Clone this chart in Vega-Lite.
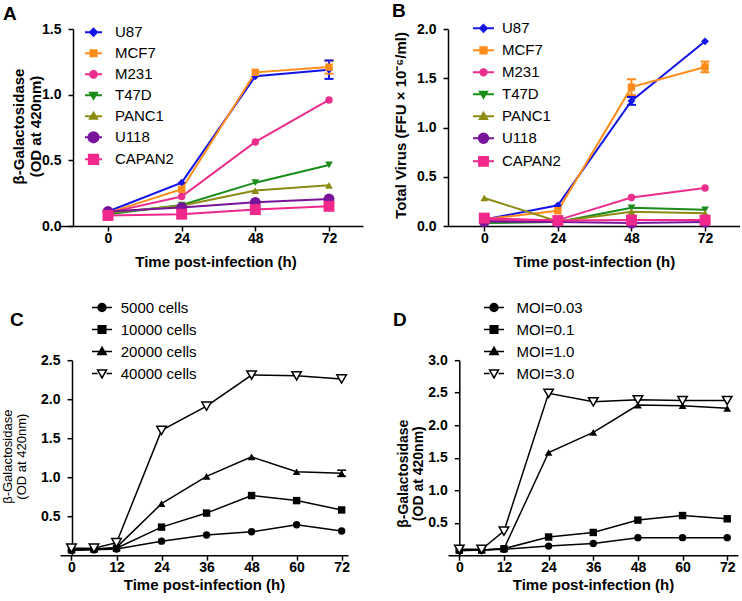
{
 "$schema": "https://vega.github.io/schema/vega-lite/v6.json",
 "background": "white",
 "padding": {"left": 1, "top": 1, "right": 0, "bottom": 0},
 "spacing": 27.2,
 "resolve": {"scale": {"color": "independent", "shape": "independent", "fill": "independent", "stroke": "independent"}, "legend": {"color": "independent", "shape": "independent", "fill": "independent", "stroke": "independent"}},
 "config": {
  "view": {"stroke": null},
  "axis": {"domainColor": "black", "domainWidth": 1.5, "tickColor": "black", "tickWidth": 1.5, "tickSize": 5, "grid": false, "labelFont": "Liberation Sans", "labelFontSize": 14, "labelFontWeight": "bold", "labelColor": "black", "titleFont": "Liberation Sans", "titleFontSize": 15, "titleFontWeight": "bold", "titleColor": "black"},
  "axisX": {"labelPadding": 0, "titlePadding": 3, "labelFlush": false, "labelOverlap": false},
  "axisY": {"labelPadding": 7, "titleBaseline": "middle", "titleAlign": "center", "titleLineHeight": 17},
  "legend": {"labelFont": "Liberation Sans", "labelFontSize": 15, "labelColor": "black", "orient": "none", "title": null, "symbolOpacity": 1},
  "title": {"font": "Liberation Sans", "fontSize": 19, "fontWeight": "bold", "color": "black", "anchor": "start", "frame": "group", "baseline": "alphabetic"}
 },
 "datasets": {
  "a": [
   {"s": "U87", "t": 0, "v": 0.11}, {"s": "U87", "t": 24, "v": 0.33}, {"s": "U87", "t": 48, "v": 1.14}, {"s": "U87", "t": 72, "v": 1.19},
   {"s": "MCF7", "t": 0, "v": 0.10}, {"s": "MCF7", "t": 24, "v": 0.28}, {"s": "MCF7", "t": 48, "v": 1.17}, {"s": "MCF7", "t": 72, "v": 1.21},
   {"s": "M231", "t": 0, "v": 0.10}, {"s": "M231", "t": 24, "v": 0.225}, {"s": "M231", "t": 48, "v": 0.64}, {"s": "M231", "t": 72, "v": 0.96},
   {"s": "T47D", "t": 0, "v": 0.09}, {"s": "T47D", "t": 24, "v": 0.16}, {"s": "T47D", "t": 48, "v": 0.33}, {"s": "T47D", "t": 72, "v": 0.465},
   {"s": "PANC1", "t": 0, "v": 0.10}, {"s": "PANC1", "t": 24, "v": 0.155}, {"s": "PANC1", "t": 48, "v": 0.27}, {"s": "PANC1", "t": 72, "v": 0.31},
   {"s": "U118", "t": 0, "v": 0.11}, {"s": "U118", "t": 24, "v": 0.14}, {"s": "U118", "t": 48, "v": 0.18}, {"s": "U118", "t": 72, "v": 0.205},
   {"s": "CAPAN2", "t": 0, "v": 0.08}, {"s": "CAPAN2", "t": 24, "v": 0.09}, {"s": "CAPAN2", "t": 48, "v": 0.125}, {"s": "CAPAN2", "t": 72, "v": 0.15}
  ],
  "aerr": [
   {"s": "MCF7", "t": 72, "lo": 1.16, "hi": 1.26},
   {"s": "U87", "t": 72, "lo": 1.12, "hi": 1.26}
  ],
  "b": [
   {"s": "U87", "t": 0, "v": 0.065}, {"s": "U87", "t": 24, "v": 0.21}, {"s": "U87", "t": 48, "v": 1.27}, {"s": "U87", "t": 72, "v": 1.875},
   {"s": "MCF7", "t": 0, "v": 0.07}, {"s": "MCF7", "t": 24, "v": 0.155}, {"s": "MCF7", "t": 48, "v": 1.41}, {"s": "MCF7", "t": 72, "v": 1.615},
   {"s": "M231", "t": 0, "v": 0.06}, {"s": "M231", "t": 24, "v": 0.06}, {"s": "M231", "t": 48, "v": 0.29}, {"s": "M231", "t": 72, "v": 0.385},
   {"s": "T47D", "t": 0, "v": 0.03}, {"s": "T47D", "t": 24, "v": 0.04}, {"s": "T47D", "t": 48, "v": 0.185}, {"s": "T47D", "t": 72, "v": 0.165},
   {"s": "PANC1", "t": 0, "v": 0.285}, {"s": "PANC1", "t": 24, "v": 0.045}, {"s": "PANC1", "t": 48, "v": 0.145}, {"s": "PANC1", "t": 72, "v": 0.13},
   {"s": "U118", "t": 0, "v": 0.045}, {"s": "U118", "t": 24, "v": 0.04}, {"s": "U118", "t": 48, "v": 0.03}, {"s": "U118", "t": 72, "v": 0.04},
   {"s": "CAPAN2", "t": 0, "v": 0.08}, {"s": "CAPAN2", "t": 24, "v": 0.055}, {"s": "CAPAN2", "t": 48, "v": 0.06}, {"s": "CAPAN2", "t": 72, "v": 0.06}
  ],
  "berr": [
   {"s": "U87", "t": 48, "lo": 1.23, "hi": 1.31},
   {"s": "MCF7", "t": 48, "lo": 1.33, "hi": 1.49},
   {"s": "MCF7", "t": 72, "lo": 1.56, "hi": 1.67}
  ],
  "c": [
   {"s": "5000 cells", "t": 0, "v": 0.06}, {"s": "5000 cells", "t": 6, "v": 0.07}, {"s": "5000 cells", "t": 12, "v": 0.08}, {"s": "5000 cells", "t": 24, "v": 0.18}, {"s": "5000 cells", "t": 36, "v": 0.26}, {"s": "5000 cells", "t": 48, "v": 0.30}, {"s": "5000 cells", "t": 60, "v": 0.39}, {"s": "5000 cells", "t": 72, "v": 0.31},
   {"s": "10000 cells", "t": 0, "v": 0.07}, {"s": "10000 cells", "t": 6, "v": 0.08}, {"s": "10000 cells", "t": 12, "v": 0.09}, {"s": "10000 cells", "t": 24, "v": 0.36}, {"s": "10000 cells", "t": 36, "v": 0.54}, {"s": "10000 cells", "t": 48, "v": 0.765}, {"s": "10000 cells", "t": 60, "v": 0.70}, {"s": "10000 cells", "t": 72, "v": 0.58},
   {"s": "20000 cells", "t": 0, "v": 0.07}, {"s": "20000 cells", "t": 6, "v": 0.08}, {"s": "20000 cells", "t": 12, "v": 0.10}, {"s": "20000 cells", "t": 24, "v": 0.66}, {"s": "20000 cells", "t": 36, "v": 1.01}, {"s": "20000 cells", "t": 48, "v": 1.26}, {"s": "20000 cells", "t": 60, "v": 1.07}, {"s": "20000 cells", "t": 72, "v": 1.05},
   {"s": "40000 cells", "t": 0, "v": 0.09}, {"s": "40000 cells", "t": 6, "v": 0.09}, {"s": "40000 cells", "t": 12, "v": 0.16}, {"s": "40000 cells", "t": 24, "v": 1.60}, {"s": "40000 cells", "t": 36, "v": 1.91}, {"s": "40000 cells", "t": 48, "v": 2.31}, {"s": "40000 cells", "t": 60, "v": 2.30}, {"s": "40000 cells", "t": 72, "v": 2.26}
  ],
  "cerr": [
   {"s": "20000 cells", "t": 72, "lo": 1.01, "hi": 1.09}
  ],
  "d": [
   {"s": "MOI=0.03", "t": 0, "v": 0.07}, {"s": "MOI=0.03", "t": 6, "v": 0.08}, {"s": "MOI=0.03", "t": 12, "v": 0.09}, {"s": "MOI=0.03", "t": 24, "v": 0.14}, {"s": "MOI=0.03", "t": 36, "v": 0.18}, {"s": "MOI=0.03", "t": 48, "v": 0.27}, {"s": "MOI=0.03", "t": 60, "v": 0.27}, {"s": "MOI=0.03", "t": 72, "v": 0.27},
   {"s": "MOI=0.1", "t": 0, "v": 0.08}, {"s": "MOI=0.1", "t": 6, "v": 0.08}, {"s": "MOI=0.1", "t": 12, "v": 0.10}, {"s": "MOI=0.1", "t": 24, "v": 0.28}, {"s": "MOI=0.1", "t": 36, "v": 0.35}, {"s": "MOI=0.1", "t": 48, "v": 0.54}, {"s": "MOI=0.1", "t": 60, "v": 0.61}, {"s": "MOI=0.1", "t": 72, "v": 0.56},
   {"s": "MOI=1.0", "t": 0, "v": 0.08}, {"s": "MOI=1.0", "t": 6, "v": 0.08}, {"s": "MOI=1.0", "t": 12, "v": 0.10}, {"s": "MOI=1.0", "t": 24, "v": 1.58}, {"s": "MOI=1.0", "t": 36, "v": 1.89}, {"s": "MOI=1.0", "t": 48, "v": 2.31}, {"s": "MOI=1.0", "t": 60, "v": 2.30}, {"s": "MOI=1.0", "t": 72, "v": 2.26},
   {"s": "MOI=3.0", "t": 0, "v": 0.09}, {"s": "MOI=3.0", "t": 6, "v": 0.09}, {"s": "MOI=3.0", "t": 12, "v": 0.37}, {"s": "MOI=3.0", "t": 24, "v": 2.49}, {"s": "MOI=3.0", "t": 36, "v": 2.36}, {"s": "MOI=3.0", "t": 48, "v": 2.39}, {"s": "MOI=3.0", "t": 60, "v": 2.38}, {"s": "MOI=3.0", "t": 72, "v": 2.38}
  ]
 },
 "vconcat": [
  {
   "hconcat": [
    {
     "width": 303, "height": 197,
     "title": {"text": "A", "dx": -57, "offset": -2.4},
     "data": {"name": "a"},
     "resolve": {"scale": {"color": "independent", "stroke": "independent", "shape": "independent"}, "legend": {"color": "independent", "stroke": "independent", "shape": "independent"}},
     "encoding": {
      "x": {"field": "t", "type": "quantitative", "scale": {"domain": [-15.64, 83.08], "nice": false, "zero": false}, "axis": {"values": [0, 24, 48, 72], "title": "Time post-infection (h)", "titlePadding": 9, "titleX": 155.5}},
      "y": {"field": "v", "type": "quantitative", "scale": {"domain": [0, 1.5], "nice": false}, "axis": {"values": [0, 0.5, 1, 1.5], "format": ".1f", "offset": -13, "title": ["β-Galactosidase", "(OD at 420nm)"], "titleX": -55, "titleY": 97}},
      "color": {"field": "s", "type": "nominal", "scale": {"domain": ["U87", "MCF7", "M231", "T47D", "PANC1", "U118", "CAPAN2"], "range": ["#1414E6", "#FF8C1A", "#EB2D8C", "#1A8C1A", "#8C8C14", "#78149B", "#F0288C"]}, "legend": null}
     },
     "layer": [
      {"mark": {"type": "line", "strokeWidth": 2}},
      {"data": {"name": "aerr"}, "mark": {"type": "rule", "strokeWidth": 2}, "encoding": {"y": {"field": "lo", "type": "quantitative"}, "y2": {"field": "hi"}}},
      {"data": {"name": "aerr"}, "mark": {"type": "tick", "orient": "horizontal", "size": 9, "thickness": 2, "opacity": 1}, "encoding": {"y": {"field": "lo", "type": "quantitative"}}},
      {"data": {"name": "aerr"}, "mark": {"type": "tick", "orient": "horizontal", "size": 9, "thickness": 2, "opacity": 1}, "encoding": {"y": {"field": "hi", "type": "quantitative"}}},
      {"transform": [{"filter": {"field": "s", "equal": "U87"}}], "mark": {"type": "point", "filled": true, "opacity": 1, "shape": "diamond", "size": 60}},
      {"transform": [{"filter": {"field": "s", "equal": "MCF7"}}], "mark": {"type": "point", "filled": true, "opacity": 1, "shape": "square", "size": 55}},
      {"transform": [{"filter": {"field": "s", "equal": "M231"}}], "mark": {"type": "point", "filled": true, "opacity": 1, "shape": "circle", "size": 55}},
      {"transform": [{"filter": {"field": "s", "equal": "T47D"}}], "mark": {"type": "point", "filled": true, "opacity": 1, "shape": "triangle-down", "size": 60}},
      {"transform": [{"filter": {"field": "s", "equal": "PANC1"}}], "mark": {"type": "point", "filled": true, "opacity": 1, "shape": "triangle-up", "size": 60}},
      {"transform": [{"filter": {"field": "s", "equal": "U118"}}], "mark": {"type": "point", "filled": true, "opacity": 1, "shape": "circle", "size": 120}},
      {"transform": [{"filter": {"field": "s", "equal": "CAPAN2"}}], "mark": {"type": "point", "filled": true, "opacity": 1, "shape": "square", "size": 120}},
      {
       "data": {"values": []},
       "mark": {"type": "point", "filled": true, "opacity": 1},
       "encoding": {
        "color": {"field": "s", "type": "nominal", "scale": {"domain": ["U87", "MCF7", "M231", "T47D", "PANC1", "U118", "CAPAN2"], "range": ["#1414E6", "#FF8C1A", "#EB2D8C", "#1A8C1A", "#8C8C14", "#78149B", "#F0288C"]}, "legend": {"legendX": 24, "legendY": -6.2, "symbolSize": 289, "rowPadding": 3, "labelOffset": 12, "symbolStrokeWidth": 2}},
        "stroke": {"field": "s", "type": "nominal", "scale": {"domain": ["U87", "MCF7", "M231", "T47D", "PANC1", "U118", "CAPAN2"], "range": ["#1414E6", "#FF8C1A", "#EB2D8C", "#1A8C1A", "#8C8C14", "#78149B", "#F0288C"]}, "legend": {"legendX": 24, "legendY": -6.2, "symbolSize": 289, "rowPadding": 3, "labelOffset": 12, "symbolStrokeWidth": 2}},
        "shape": {"field": "s", "type": "nominal", "scale": {"domain": ["U87", "MCF7", "M231", "T47D", "PANC1", "U118", "CAPAN2"], "range": ["M-1,0H1M0,-0.42L0.42,0L0,0.42L-0.42,0Z", "M-1,0H1M-0.36,-0.36H0.36V0.36H-0.36Z", "M-1,0H1M-0.4,0A0.4,0.4 0 1,0 0.4,0A0.4,0.4 0 1,0 -0.4,0Z", "M-1,0H1M-0.42,-0.3H0.42L0,0.42Z", "M-1,0H1M-0.42,0.3H0.42L0,-0.42Z", "M-1,0H1M-0.6,0A0.6,0.6 0 1,0 0.6,0A0.6,0.6 0 1,0 -0.6,0Z", "M-1,0H1M-0.55,-0.55H0.55V0.55H-0.55Z"]}, "legend": {"legendX": 24, "legendY": -6.2, "symbolSize": 289, "rowPadding": 3, "labelOffset": 12, "symbolStrokeWidth": 2}}
       }
      }
     ]
    },
    {
     "width": 292, "height": 197,
     "title": {"text": "B", "dx": -56, "offset": -4.1},
     "data": {"name": "b"},
     "resolve": {"scale": {"color": "independent", "stroke": "independent", "shape": "independent"}, "legend": {"color": "independent", "stroke": "independent", "shape": "independent"}},
     "encoding": {
      "x": {"field": "t", "type": "quantitative", "scale": {"domain": [-11.84, 83.4], "nice": false, "zero": false}, "axis": {"values": [0, 24, 48, 72], "title": "Time post-infection (h)", "titlePadding": 9}},
      "y": {"field": "v", "type": "quantitative", "scale": {"domain": [0, 2], "nice": false}, "axis": {"values": [0, 0.5, 1, 1.5, 2], "format": ".1f", "title": "Total Virus (FFU × 10⁻⁶/ml)", "titleX": -48, "titleY": 96}},
      "color": {"field": "s", "type": "nominal", "scale": {"domain": ["U87", "MCF7", "M231", "T47D", "PANC1", "U118", "CAPAN2"], "range": ["#1414E6", "#FF8C1A", "#EB2D8C", "#1A8C1A", "#8C8C14", "#78149B", "#F0288C"]}, "legend": null}
     },
     "layer": [
      {"mark": {"type": "line", "strokeWidth": 2}},
      {"data": {"name": "berr"}, "mark": {"type": "rule", "strokeWidth": 2}, "encoding": {"y": {"field": "lo", "type": "quantitative"}, "y2": {"field": "hi"}}},
      {"data": {"name": "berr"}, "mark": {"type": "tick", "orient": "horizontal", "size": 9, "thickness": 2, "opacity": 1}, "encoding": {"y": {"field": "lo", "type": "quantitative"}}},
      {"data": {"name": "berr"}, "mark": {"type": "tick", "orient": "horizontal", "size": 9, "thickness": 2, "opacity": 1}, "encoding": {"y": {"field": "hi", "type": "quantitative"}}},
      {"transform": [{"filter": {"field": "s", "equal": "U87"}}], "mark": {"type": "point", "filled": true, "opacity": 1, "shape": "diamond", "size": 60}},
      {"transform": [{"filter": {"field": "s", "equal": "MCF7"}}], "mark": {"type": "point", "filled": true, "opacity": 1, "shape": "square", "size": 55}},
      {"transform": [{"filter": {"field": "s", "equal": "M231"}}], "mark": {"type": "point", "filled": true, "opacity": 1, "shape": "circle", "size": 55}},
      {"transform": [{"filter": {"field": "s", "equal": "T47D"}}], "mark": {"type": "point", "filled": true, "opacity": 1, "shape": "triangle-down", "size": 60}},
      {"transform": [{"filter": {"field": "s", "equal": "PANC1"}}], "mark": {"type": "point", "filled": true, "opacity": 1, "shape": "triangle-up", "size": 60}},
      {"transform": [{"filter": {"field": "s", "equal": "U118"}}], "mark": {"type": "point", "filled": true, "opacity": 1, "shape": "circle", "size": 120}},
      {"transform": [{"filter": {"field": "s", "equal": "CAPAN2"}}], "mark": {"type": "point", "filled": true, "opacity": 1, "shape": "square", "size": 120}},
      {
       "data": {"values": []},
       "mark": {"type": "point", "filled": true, "opacity": 1},
       "encoding": {
        "color": {"field": "s", "type": "nominal", "scale": {"domain": ["U87", "MCF7", "M231", "T47D", "PANC1", "U118", "CAPAN2"], "range": ["#1414E6", "#FF8C1A", "#EB2D8C", "#1A8C1A", "#8C8C14", "#78149B", "#F0288C"]}, "legend": {"legendX": 24, "legendY": -12.2, "symbolSize": 441, "rowPadding": 2, "labelOffset": 7, "symbolStrokeWidth": 2}},
        "stroke": {"field": "s", "type": "nominal", "scale": {"domain": ["U87", "MCF7", "M231", "T47D", "PANC1", "U118", "CAPAN2"], "range": ["#1414E6", "#FF8C1A", "#EB2D8C", "#1A8C1A", "#8C8C14", "#78149B", "#F0288C"]}, "legend": {"legendX": 24, "legendY": -12.2, "symbolSize": 441, "rowPadding": 2, "labelOffset": 7, "symbolStrokeWidth": 2}},
        "shape": {"field": "s", "type": "nominal", "scale": {"domain": ["U87", "MCF7", "M231", "T47D", "PANC1", "U118", "CAPAN2"], "range": ["M-1,0H1M0,-0.33L0.33,0L0,0.33L-0.33,0Z", "M-1,0H1M-0.3,-0.3H0.3V0.3H-0.3Z", "M-1,0H1M-0.3,0A0.3,0.3 0 1,0 0.3,0A0.3,0.3 0 1,0 -0.3,0Z", "M-1,0H1M-0.34,-0.25H0.34L0,0.34Z", "M-1,0H1M-0.34,0.25H0.34L0,-0.34Z", "M-1,0H1M-0.45,0A0.45,0.45 0 1,0 0.45,0A0.45,0.45 0 1,0 -0.45,0Z", "M-1,0H1M-0.42,-0.42H0.42V0.42H-0.42Z"]}, "legend": {"legendX": 24, "legendY": -12.2, "symbolSize": 441, "rowPadding": 2, "labelOffset": 7, "symbolStrokeWidth": 2}}
       }
      }
     ]
    }
   ],
   "spacing": 85,
   "bounds": "flush",
   "resolve": {"scale": {"color": "independent", "shape": "independent", "stroke": "independent"}, "legend": {"color": "independent", "shape": "independent", "stroke": "independent"}}
  },
  {
   "hconcat": [
    {
     "width": 288, "height": 195,
     "title": {"text": "C", "dx": -50, "offset": -33.7},
     "data": {"name": "c"},
     "encoding": {
      "x": {"field": "t", "type": "quantitative", "scale": {"domain": [-3.06, 73.7], "nice": false, "zero": false}, "axis": {"values": [0, 12, 24, 36, 48, 60, 72], "title": "Time post-infection (h)"}},
      "y": {"field": "v", "type": "quantitative", "scale": {"domain": [0, 2.5], "nice": false}, "axis": {"values": [0.5, 1, 1.5, 2, 2.5], "format": ".1f", "offset": -12, "title": ["β-Galactosidase", "(OD at 420nm)"], "titleFontSize": 13, "titleFontWeight": "normal", "titleLineHeight": 13.5, "titleX": -64.5, "titleY": 96}}
     },
     "layer": [
      {"mark": {"type": "line", "strokeWidth": 1.5, "color": "black"}, "encoding": {"detail": {"field": "s", "type": "nominal"}}},
      {"data": {"name": "cerr"}, "mark": {"type": "rule", "strokeWidth": 1.5, "color": "black"}, "encoding": {"y": {"field": "lo", "type": "quantitative"}, "y2": {"field": "hi"}}},
      {"data": {"name": "cerr"}, "mark": {"type": "tick", "orient": "horizontal", "size": 9, "thickness": 1.5, "color": "black", "opacity": 1}, "encoding": {"y": {"field": "lo", "type": "quantitative"}}},
      {"data": {"name": "cerr"}, "mark": {"type": "tick", "orient": "horizontal", "size": 9, "thickness": 1.5, "color": "black", "opacity": 1}, "encoding": {"y": {"field": "hi", "type": "quantitative"}}},
      {"transform": [{"filter": {"field": "s", "equal": "5000 cells"}}], "mark": {"type": "point", "filled": true, "opacity": 1, "shape": "circle", "size": 55, "color": "black"}},
      {"transform": [{"filter": {"field": "s", "equal": "10000 cells"}}], "mark": {"type": "point", "filled": true, "opacity": 1, "shape": "square", "size": 55, "color": "black"}},
      {"transform": [{"filter": {"field": "s", "equal": "20000 cells"}}], "mark": {"type": "point", "filled": true, "opacity": 1, "shape": "triangle-up", "size": 60, "color": "black"}},
      {"transform": [{"filter": {"field": "s", "equal": "40000 cells"}}], "mark": {"type": "point", "filled": true, "opacity": 1, "shape": "triangle-down", "size": 90, "fill": "white", "stroke": "black", "strokeWidth": 1.5}},
      {
       "data": {"values": []},
       "mark": {"type": "point", "filled": true, "opacity": 1},
       "encoding": {
        "fill": {"field": "s", "type": "nominal", "scale": {"domain": ["5000 cells", "10000 cells", "20000 cells", "40000 cells"], "range": ["black", "black", "black", "white"]}, "legend": {"legendX": 31, "legendY": -63.7, "symbolSize": 400, "rowPadding": 3, "labelOffset": 7.7, "symbolStrokeWidth": 1.5}},
        "stroke": {"field": "s", "type": "nominal", "scale": {"domain": ["5000 cells", "10000 cells", "20000 cells", "40000 cells"], "range": ["black", "black", "black", "black"]}, "legend": {"legendX": 31, "legendY": -63.7, "symbolSize": 400, "rowPadding": 3, "labelOffset": 7.7, "symbolStrokeWidth": 1.5}},
        "shape": {"field": "s", "type": "nominal", "scale": {"domain": ["5000 cells", "10000 cells", "20000 cells", "40000 cells"], "range": ["M-1,0H1M-0.4,0A0.4,0.4 0 1,0 0.4,0A0.4,0.4 0 1,0 -0.4,0Z", "M-1,0H1M-0.38,-0.38H0.38V0.38H-0.38Z", "M-1,0H1M-0.42,0.3H0.42L0,-0.42Z", "M-1,0H-0.45M0.45,0H1M-0.45,-0.36H0.45L0,0.44Z"]}, "legend": {"legendX": 31, "legendY": -63.7, "symbolSize": 400, "rowPadding": 3, "labelOffset": 7.7, "symbolStrokeWidth": 1.5}}
       }
      }
     ]
    },
    {
     "width": 290, "height": 195,
     "title": {"text": "D", "dx": -55, "offset": -33.7},
     "data": {"name": "d"},
     "encoding": {
      "x": {"field": "t", "type": "quantitative", "scale": {"domain": [-3.04, 74.9], "nice": false, "zero": false}, "axis": {"values": [0, 12, 24, 36, 48, 60, 72], "title": "Time post-infection (h)"}},
      "y": {"field": "v", "type": "quantitative", "scale": {"domain": [0, 3], "nice": false}, "axis": {"values": [0.5, 1, 1.5, 2, 2.5, 3], "format": ".1f", "offset": -11.3, "title": ["β-Galactosidase", "(OD at 420nm)"], "titleFontSize": 14, "titleLineHeight": 15, "titleX": -56.3, "titleY": 113}}
     },
     "layer": [
      {"mark": {"type": "line", "strokeWidth": 1.5, "color": "black"}, "encoding": {"detail": {"field": "s", "type": "nominal"}}},
      {"transform": [{"filter": {"field": "s", "equal": "MOI=0.03"}}], "mark": {"type": "point", "filled": true, "opacity": 1, "shape": "circle", "size": 55, "color": "black"}},
      {"transform": [{"filter": {"field": "s", "equal": "MOI=0.1"}}], "mark": {"type": "point", "filled": true, "opacity": 1, "shape": "square", "size": 55, "color": "black"}},
      {"transform": [{"filter": {"field": "s", "equal": "MOI=1.0"}}], "mark": {"type": "point", "filled": true, "opacity": 1, "shape": "triangle-up", "size": 60, "color": "black"}},
      {"transform": [{"filter": {"field": "s", "equal": "MOI=3.0"}}], "mark": {"type": "point", "filled": true, "opacity": 1, "shape": "triangle-down", "size": 90, "fill": "white", "stroke": "black", "strokeWidth": 1.5}},
      {
       "data": {"values": []},
       "mark": {"type": "point", "filled": true, "opacity": 1},
       "encoding": {
        "fill": {"field": "s", "type": "nominal", "scale": {"domain": ["MOI=0.03", "MOI=0.1", "MOI=1.0", "MOI=3.0"], "range": ["black", "black", "black", "white"]}, "legend": {"legendX": 35, "legendY": -63.7, "symbolSize": 400, "rowPadding": 3, "labelOffset": 11.4, "symbolStrokeWidth": 1.5}},
        "stroke": {"field": "s", "type": "nominal", "scale": {"domain": ["MOI=0.03", "MOI=0.1", "MOI=1.0", "MOI=3.0"], "range": ["black", "black", "black", "black"]}, "legend": {"legendX": 35, "legendY": -63.7, "symbolSize": 400, "rowPadding": 3, "labelOffset": 11.4, "symbolStrokeWidth": 1.5}},
        "shape": {"field": "s", "type": "nominal", "scale": {"domain": ["MOI=0.03", "MOI=0.1", "MOI=1.0", "MOI=3.0"], "range": ["M-1,0H1M-0.4,0A0.4,0.4 0 1,0 0.4,0A0.4,0.4 0 1,0 -0.4,0Z", "M-1,0H1M-0.38,-0.38H0.38V0.38H-0.38Z", "M-1,0H1M-0.42,0.3H0.42L0,-0.42Z", "M-1,0H-0.45M0.45,0H1M-0.45,-0.36H0.45L0,0.44Z"]}, "legend": {"legendX": 35, "legendY": -63.7, "symbolSize": 400, "rowPadding": 3, "labelOffset": 11.4, "symbolStrokeWidth": 1.5}}
       }
      }
     ]
    }
   ],
   "spacing": 100,
   "bounds": "flush",
   "resolve": {"scale": {"fill": "independent", "shape": "independent", "stroke": "independent"}, "legend": {"shape": "independent", "fill": "independent", "stroke": "independent"}}
  }
 ]
}
